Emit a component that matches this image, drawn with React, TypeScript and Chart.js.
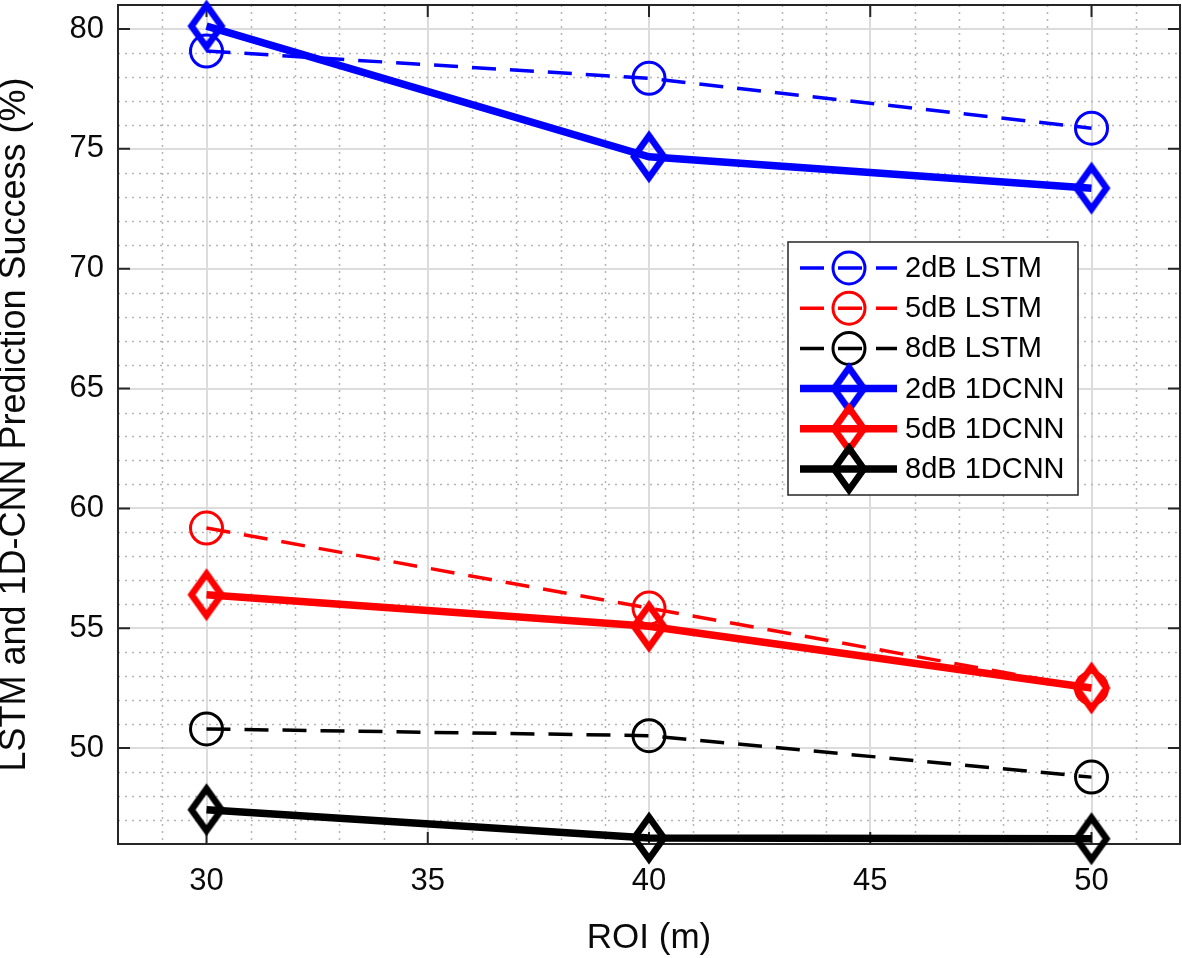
import React, { useEffect, useRef } from "react";
import { Chart, registerables } from "chart.js";

Chart.register(...registerables);

// ---------- data ----------
const roiValues = [30, 40, 50];
const lstm2dB = [79.08, 77.94, 75.86];
const lstm5dB = [59.18, 55.84, 52.5];
const lstm8dB = [50.8, 50.52, 48.79];
const cnn2dB = [80.12, 74.67, 73.36];
const cnn5dB = [56.4, 55.08, 52.51];
const cnn8dB = [47.43, 46.25, 46.22];
const seriesLabels = ["2dB LSTM", "5dB LSTM", "8dB LSTM", "2dB 1DCNN", "5dB 1DCNN", "8dB 1DCNN"];
const seriesColors = ["#0000ff", "#ff0000", "#000000", "#0000ff", "#ff0000", "#000000"];
const xTickValues = [30, 35, 40, 45, 50];
const yTickValues = [50, 55, 60, 65, 70, 75, 80];
const xRange = [28, 52];
const yRange = [46, 81];
const xTitle = "ROI (m)";
const yTitle = "LSTM and 1D-CNN Prediction Success (%)";

const FONT = "'Liberation Sans', Arial, Helvetica, sans-serif";

function makeDiamond(color: string): HTMLCanvasElement {
  const c = document.createElement("canvas");
  c.width = 48;
  c.height = 64;
  const g = c.getContext("2d")!;
  g.strokeStyle = color;
  g.lineWidth = 6.5;
  g.lineJoin = "miter";
  g.miterLimit = 10;
  g.beginPath();
  g.moveTo(24, 11);
  g.lineTo(39, 32);
  g.lineTo(24, 53);
  g.lineTo(9, 32);
  g.closePath();
  g.stroke();
  return c;
}

function zeroPadding(s: any) {
  s.paddingTop = 0;
  s.paddingBottom = 0;
  s.paddingLeft = 0;
  s.paddingRight = 0;
}

const matlabPlugin = {
  id: "matlabStyle",
  beforeDatasetsDraw(chart: any) {
    const { ctx, chartArea, scales } = chart;
    const { left, right, top, bottom } = chartArea;
    const x = scales.x;
    const y = scales.y;
    ctx.save();
    // minor dotted grid
    ctx.strokeStyle = "#b5b5b5";
    ctx.lineWidth = 1.5;
    ctx.setLineDash([2, 5]);
    for (let v = Math.ceil(x.min); v < x.max; v++) {
      if (v <= x.min || v % 5 === 0) continue;
      const px = Math.round(x.getPixelForValue(v)) + 0.5;
      ctx.beginPath();
      ctx.moveTo(px, top);
      ctx.lineTo(px, bottom);
      ctx.stroke();
    }
    for (let v = Math.ceil(y.min); v < y.max; v++) {
      if (v <= y.min || v % 5 === 0) continue;
      const py = Math.round(y.getPixelForValue(v)) + 0.5;
      ctx.beginPath();
      ctx.moveTo(left, py);
      ctx.lineTo(right, py);
      ctx.stroke();
    }
    ctx.setLineDash([]);
    // box
    ctx.strokeStyle = "#262626";
    ctx.lineWidth = 2;
    ctx.strokeRect(left, top, right - left, bottom - top);
    // inner ticks
    const tl = 12;
    ctx.beginPath();
    for (const v of xTickValues) {
      const px = x.getPixelForValue(v);
      ctx.moveTo(px, bottom);
      ctx.lineTo(px, bottom - tl);
      ctx.moveTo(px, top);
      ctx.lineTo(px, top + tl);
    }
    for (const v of yTickValues) {
      const py = y.getPixelForValue(v);
      ctx.moveTo(left, py);
      ctx.lineTo(left + tl, py);
      ctx.moveTo(right, py);
      ctx.lineTo(right - tl, py);
    }
    ctx.stroke();
    ctx.restore();
  },
  afterDatasetsDraw(chart: any) {
    const { ctx } = chart;
    const box = { left: 788, top: 242, width: 290, height: 253 };
    const row = { first: 268, step: 40.2, lineStart: 800, lineEnd: 897, marker: 849, text: 905 };
    ctx.save();
    ctx.fillStyle = "#ffffff";
    ctx.fillRect(box.left, box.top, box.width, box.height);
    ctx.strokeStyle = "#262626";
    ctx.lineWidth = 1.5;
    ctx.strokeRect(box.left, box.top, box.width, box.height);
    chart.data.datasets.forEach((ds: any, i: number) => {
      const cy = row.first + i * row.step;
      ctx.strokeStyle = ds.borderColor;
      ctx.lineWidth = ds.borderWidth;
      ctx.setLineDash(ds.borderDash || []);
      ctx.beginPath();
      ctx.moveTo(row.lineStart, cy);
      ctx.lineTo(row.lineEnd, cy);
      ctx.stroke();
      ctx.setLineDash([]);
      if (ds.pointStyle === "circle") {
        ctx.lineWidth = ds.pointBorderWidth;
        ctx.beginPath();
        ctx.arc(row.marker, cy, ds.pointRadius, 0, Math.PI * 2);
        ctx.stroke();
      } else {
        const img = ds.pointStyle as HTMLCanvasElement;
        ctx.drawImage(img, row.marker - img.width / 2, cy - img.height / 2);
      }
    });
    ctx.fillStyle = "#000000";
    ctx.font = `29px ${FONT}`;
    ctx.textBaseline = "middle";
    ctx.textAlign = "left";
    seriesLabels.forEach((lab, i) => {
      ctx.fillText(lab, row.text, row.first + i * row.step + 1);
    });
    ctx.restore();
  },
};

export default function App() {
  const ref = useRef<HTMLCanvasElement | null>(null);

  useEffect(() => {
    if (!ref.current) return;
    const allSeries = [lstm2dB, lstm5dB, lstm8dB, cnn2dB, cnn5dB, cnn8dB];
    const datasets = allSeries.map((vals, i) => {
      const isLstm = i < 3;
      const color = seriesColors[i];
      return {
        label: seriesLabels[i],
        data: roiValues.map((xv, j) => ({ x: xv, y: vals[j] })),
        borderColor: color,
        backgroundColor: color,
        borderWidth: isLstm ? 3.5 : 7.5,
        borderDash: isLstm ? [24, 14] : [],
        pointStyle: isLstm ? "circle" : makeDiamond(color),
        pointRadius: isLstm ? 16 : 20,
        pointBorderWidth: 3,
        pointBorderColor: color,
        pointBackgroundColor: "rgba(0,0,0,0)",
        tension: 0,
        clip: false,
        order: isLstm ? 10 - i : 5 - i,
      };
    });

    const chart = new Chart(ref.current, {
      type: "line",
      data: { datasets: datasets as any },
      plugins: [matlabPlugin],
      options: {
        animation: false,
        responsive: false,
        devicePixelRatio: 1,
        layout: { autoPadding: false, padding: { top: 5, right: 2, left: 0, bottom: 0 } },
        plugins: { legend: { display: false }, tooltip: { enabled: false } },
        scales: {
          x: {
            type: "linear",
            min: xRange[0],
            max: xRange[1],
            afterBuildTicks: (s: any) => {
              s.ticks = xTickValues.map((v) => ({ value: v }));
            },
            afterFit: (s: any) => {
              s.height = 114;
              zeroPadding(s);
            },
            grid: { color: "#dcdcdc", lineWidth: 2, drawTicks: false },
            border: { display: false },
            ticks: {
              autoSkip: false,
              maxRotation: 0,
              padding: 19,
              color: "#0a0a0a",
              font: { family: FONT, size: 31 },
            },
            title: {
              display: true,
              text: xTitle,
              color: "#0a0a0a",
              font: { family: FONT, size: 35, lineHeight: 0.85 },
              padding: { top: 0, bottom: 4.5 },
            },
          },
          y: {
            type: "linear",
            min: yRange[0],
            max: yRange[1],
            afterBuildTicks: (s: any) => {
              s.ticks = yTickValues.map((v) => ({ value: v }));
            },
            afterFit: (s: any) => {
              s.width = 118;
              zeroPadding(s);
            },
            grid: { color: "#dcdcdc", lineWidth: 2, drawTicks: false },
            border: { display: false },
            ticks: {
              padding: 14,
              color: "#0a0a0a",
              font: { family: FONT, size: 31 },
            },
            title: {
              display: true,
              text: yTitle,
              color: "#0a0a0a",
              font: { family: FONT, size: 36, lineHeight: 0.85 },
              padding: { top: 0, bottom: 0 },
            },
          },
        },
      },
    });
    return () => chart.destroy();
  }, []);

  return (
    <div style={{ position: "absolute", left: 0, top: 0, width: 1182, height: 958, background: "#fff" }}>
      <canvas ref={ref} width={1182} height={958} style={{ display: "block" }} />
    </div>
  );
}
